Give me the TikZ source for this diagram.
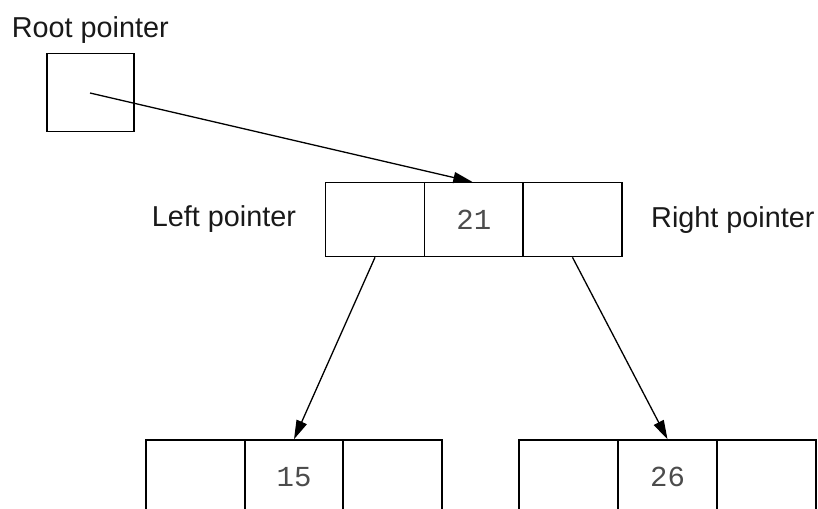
\documentclass[tikz,border=0pt]{standalone}
\usepackage{fontspec}
\setmainfont{Liberation Sans}
\newfontfamily\monofont{Liberation Mono}
\usetikzlibrary{arrows.meta}
\begin{document}
\begin{tikzpicture}[x=1pt,y=-1pt,
  cell/.style={draw, line width=1.5pt, rectangle, inner sep=0pt, minimum width=99pt, minimum height=74pt, font=\monofont\fontsize{29}{32}\selectfont, text=black!70},
  lbl/.style={inner sep=0pt, anchor=base west, font=\fontsize{28.8}{32}\selectfont, text=black!90},
  ptr/.style={line width=1.3pt, -{Triangle[length=19pt,width=11pt]}}]
\clip (0,0) rectangle (818,508);
% root pointer
\node[lbl] (rootlbl) at (11.7,38) {Root pointer};
\node[draw, line width=1.5pt, inner sep=0pt, minimum width=87pt, minimum height=78pt] (root) at (90.3,92.5) {};
\coordinate (rp) at (90,93);
% middle node
\node[cell] (m1) at (375,219.6) {};
\node[cell] (m2) at (473.8,219.6) {21};
\node[cell] (m3) at (572.5,219.6) {};
\node[lbl] (leftlbl) at (151.7,226.7) {Left pointer};
\node[lbl] (rightlbl) at (651,227.5) {Right pointer};
% bottom left node
\node[cell] (l1) at (195.3,477) {};
\node[cell] (l2) at (294,477) {15};
\node[cell] (l3) at (392.5,477) {};
% bottom right node
\node[cell] (r1) at (568.5,477) {};
\node[cell] (r2) at (667.5,477) {26};
\node[cell] (r3) at (766.5,477) {};
% arrows
\draw[ptr] (rp) -- ([xshift=-1.5pt]m2.north);
\draw[ptr] (m1.south) -- (l2.north);
\draw[ptr] (m3.south) -- (r2.north);
\end{tikzpicture}
\end{document}
